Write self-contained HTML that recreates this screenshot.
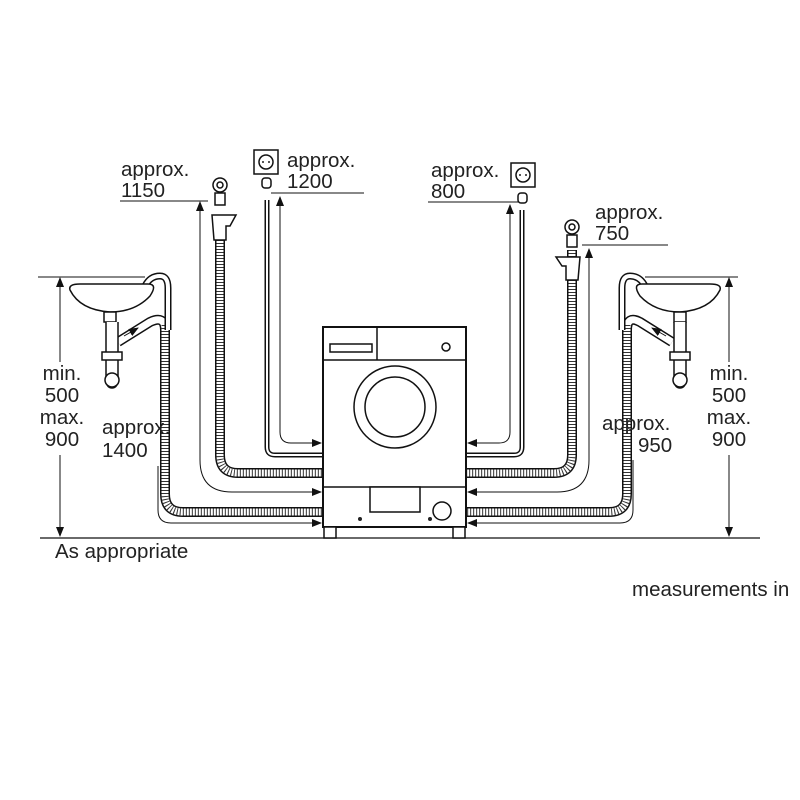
<!DOCTYPE html>
<html><head><style>
html,body{margin:0;padding:0;background:#fff;}
svg{display:block;}
text{font-family:"Liberation Sans",sans-serif;font-size:20.5px;fill:#222;}
</style></head><body>
<svg width="800" height="800" viewBox="0 0 800 800" xmlns="http://www.w3.org/2000/svg">
<defs>
<marker id="ah" markerWidth="10" markerHeight="8" refX="9" refY="4" orient="auto" markerUnits="userSpaceOnUse">
<path d="M0,0 L10,4 L0,8 z" fill="#111"/></marker>
</defs>
<g fill="none" stroke="#111">
<line x1="40" y1="538" x2="760" y2="538" stroke-width="1.2"/>

<g>
<path d="M220 240 V455 Q220 473 238 473 H323" stroke-width="10"/>
<path d="M572 250 V455 Q572 473 554 473 H466" stroke-width="10"/>
<path d="M165 325 V494 Q165 512 183 512 H323" stroke-width="10"/>
<path d="M627 325 V494 Q627 512 609 512 H466" stroke-width="10"/>
<path d="M118 342 L150 322 Q165 315 165 330" stroke-width="10"/>
<path d="M672 342 L640 322 Q627 315 627 330" stroke-width="10"/>
</g>
<g stroke="#fff" stroke-width="7">
<path d="M220 240 V455 Q220 473 238 473 H323"/>
<path d="M572 250 V455 Q572 473 554 473 H466"/>
<path d="M165 325 V494 Q165 512 183 512 H323"/>
<path d="M627 325 V494 Q627 512 609 512 H466"/>
<path d="M118 342 L150 322 Q165 315 165 330"/>
<path d="M672 342 L640 322 Q627 315 627 330"/>
</g>
<g stroke="#333" stroke-width="7" stroke-dasharray="1 2">
<path d="M220 240 V455 Q220 473 238 473 H323"/>
<path d="M572 250 V455 Q572 473 554 473 H466"/>
<path d="M165 325 V494 Q165 512 183 512 H323"/>
<path d="M627 325 V494 Q627 512 609 512 H466"/>
</g>

<path d="M267 200 V447 Q267 455 275 455 H323" stroke-width="5"/>
<path d="M267 200 V447 Q267 455 275 455 H323" stroke="#fff" stroke-width="2"/>
<path d="M522 210 V447 Q522 455 514 455 H466" stroke-width="5"/>
<path d="M522 210 V447 Q522 455 514 455 H466" stroke="#fff" stroke-width="2"/>

<path d="M145 286 Q150 276 160 276 Q168 276 168 288 V330" stroke-width="7"/>
<path d="M145 286 Q150 276 160 276 Q168 276 168 288 V330" stroke="#fff" stroke-width="4"/>
<path d="M645 286 Q640 276 630 276 Q622 276 622 288 V330" stroke-width="7"/>
<path d="M645 286 Q640 276 630 276 Q622 276 622 288 V330" stroke="#fff" stroke-width="4"/>

<g stroke-width="1">
<path d="M280 198 V432 Q280 443 291 443 H321" marker-end="url(#ah)"/>
<line x1="280" y1="210" x2="280" y2="197" marker-end="url(#ah)"/>
<path d="M200 204 V460 Q200 492 232 492 H321" marker-end="url(#ah)"/>
<line x1="200" y1="215" x2="200" y2="202" marker-end="url(#ah)"/>
<path d="M158 466 V510 Q158 523 171 523 H321" marker-end="url(#ah)"/>
<path d="M510 205 V432 Q510 443 499 443 H468" marker-end="url(#ah)"/>
<line x1="510" y1="218" x2="510" y2="205" marker-end="url(#ah)"/>
<path d="M589 250 V460 Q589 492 557 492 H468" marker-end="url(#ah)"/>
<line x1="589" y1="262" x2="589" y2="249" marker-end="url(#ah)"/>
<path d="M633 460 V510 Q633 523 620 523 H468" marker-end="url(#ah)"/>
<line x1="120" y1="201" x2="208" y2="201"/>
<line x1="271" y1="193" x2="364" y2="193"/>
<line x1="428" y1="202" x2="520" y2="202"/>
<line x1="582" y1="245" x2="668" y2="245"/>
<line x1="38" y1="277" x2="145" y2="277"/>
<line x1="645" y1="277" x2="738" y2="277"/>
<line x1="60" y1="290" x2="60" y2="278" marker-end="url(#ah)"/>
<line x1="60" y1="290" x2="60" y2="362"/>
<line x1="60" y1="455" x2="60" y2="536" marker-end="url(#ah)"/>
<line x1="729" y1="290" x2="729" y2="278" marker-end="url(#ah)"/>
<line x1="729" y1="290" x2="729" y2="362"/>
<line x1="729" y1="455" x2="729" y2="536" marker-end="url(#ah)"/>
<line x1="124" y1="336" x2="138" y2="328" marker-end="url(#ah)"/>
<line x1="666" y1="336" x2="652" y2="328" marker-end="url(#ah)"/>
</g>

<g stroke-width="1.5" fill="#fff">
<path d="M70 290 Q68 284 80 284 H148 Q158 284 150 296 Q135 312 110 312 Q80 310 70 290 z"/>
<rect x="104" y="312" width="12" height="10"/>
<path d="M106 322 V378 Q106 388 112 388 Q118 388 118 378 V322" />
<rect x="102" y="352" width="20" height="8"/>
<circle cx="112" cy="380" r="7"/>
<path d="M720 290 Q722 284 710 284 H642 Q632 284 640 296 Q655 312 680 312 Q710 310 720 290 z"/>
<rect x="674" y="312" width="12" height="10"/>
<path d="M674 322 V378 Q674 388 680 388 Q686 388 686 378 V322"/>
<rect x="670" y="352" width="20" height="8"/>
<circle cx="680" cy="380" r="7"/>

<circle cx="220" cy="185" r="7"/><circle cx="220" cy="185" r="3"/>
<rect x="215" y="193" width="10" height="12"/>
<path d="M212 215 H236 L230 226 H226 V240 H214 Z"/>
<circle cx="572" cy="227" r="7"/><circle cx="572" cy="227" r="3"/>
<rect x="567" y="235" width="10" height="12"/>
<path d="M580 257 H556 L562 266 H566 V280 H578 Z"/>

<rect x="254" y="150" width="24" height="24"/><circle cx="266" cy="162" r="7"/>
<rect x="262" y="178" width="9" height="10" rx="3"/>
<rect x="511" y="163" width="24" height="24"/><circle cx="523" cy="175" r="7"/>
<rect x="518" y="193" width="9" height="10" rx="3"/>

<rect x="323" y="327" width="143" height="200" stroke-width="2"/>
<line x1="323" y1="360" x2="466" y2="360"/>
<line x1="377" y1="327" x2="377" y2="360"/>
<rect x="330" y="344" width="42" height="8"/>
<circle cx="446" cy="347" r="4"/>
<circle cx="395" cy="407" r="41"/>
<circle cx="395" cy="407" r="30"/>
<line x1="323" y1="487" x2="466" y2="487"/>
<rect x="370" y="487" width="50" height="25"/>
<circle cx="442" cy="511" r="9"/>
<rect x="324" y="527" width="12" height="11"/>
<rect x="453" y="527" width="12" height="11"/>
</g>
</g>
<g fill="#222" stroke="none">
<circle cx="263" cy="162" r="1"/><circle cx="269" cy="162" r="1"/>
<circle cx="520" cy="175" r="1"/><circle cx="526" cy="175" r="1"/>
<circle cx="360" cy="519" r="2"/><circle cx="430" cy="519" r="2"/>
</g>

<text x="121" y="176">approx.</text><text x="121" y="197">1150</text>
<text x="287" y="167">approx.</text><text x="287" y="188">1200</text>
<text x="431" y="177">approx.</text><text x="431" y="198">800</text>
<text x="595" y="219">approx.</text><text x="595" y="240">750</text>
<text x="102" y="434">approx.</text><text x="102" y="457">1400</text>
<text x="602" y="430">approx.</text><text x="638" y="452">950</text>
<g text-anchor="middle">
<text x="62" y="380">min.</text><text x="62" y="402">500</text><text x="62" y="424">max.</text><text x="62" y="446">900</text>
<text x="729" y="380">min.</text><text x="729" y="402">500</text><text x="729" y="424">max.</text><text x="729" y="446">900</text>
</g>
<text x="55" y="558">As appropriate</text>
<text x="632" y="596">measurements in</text>
</svg>
</body></html>
